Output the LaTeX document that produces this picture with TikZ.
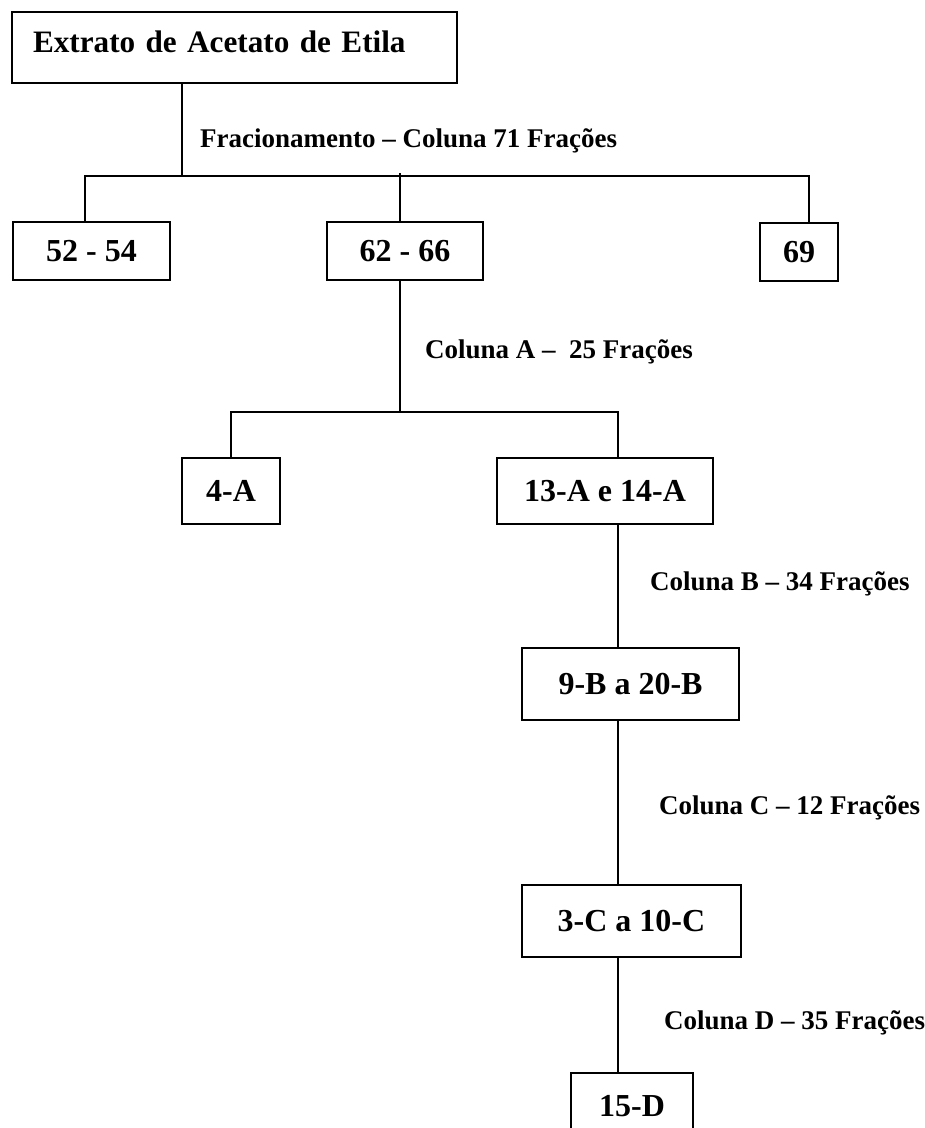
\documentclass[tikz,border=0pt]{standalone}
\usepackage{fontspec}
\setmainfont{Liberation Serif}
\usepackage{tikz}
\usetikzlibrary{positioning,calc}

\tikzset{
    frac/.style={draw, line width=2.2pt, font=\fontsize{32}{36}\bfseries\selectfont, minimum height=58pt, inner sep=0pt},
    topbox/.style={frac, font=\fontsize{31.2}{36}\bfseries\selectfont, minimum width=445pt, minimum height=71pt, text width=403pt, text depth=11pt, align=left},
    coltext/.style={anchor=west, inner sep=0pt, font=\fontsize{27}{30}\bfseries\selectfont},
    wire/.style={line width=2.2pt}
}

\begin{document}
\begin{tikzpicture}[x=1pt, y=-1pt]
    \useasboundingbox (0,0) rectangle (925,1128);
    \clip (0,0) rectangle (925,1128);
    \fill[white] (0,0) rectangle (925,1128);

    \node[topbox] (ext) at (234.5, 47.5) {Extrato de Acetato de Etila};
    \node[coltext] (lfr) at (200, 141) {Fracionamento – Coluna 71 Frações};
    \node[frac, minimum width=157pt] (f52) at (91.5, 251) {52 - 54};
    \node[frac, minimum width=156pt] (f62) at (405, 251) {62 - 66};
    \node[frac, minimum width=78pt] (f69) at (799, 252) {69};

    \node[coltext] (lca) at (425, 352) {Coluna A –\ \ 25 Frações};
    \node[frac, minimum width=98pt, minimum height=66pt] (a4) at (231, 491) {4-A};
    \node[frac, minimum width=216pt, minimum height=66pt] (a13) at (605, 491) {13-A e 14-A};

    \node[coltext] (lcb) at (650, 584) {Coluna B – 34 Frações};
    \node[frac, minimum width=217pt, minimum height=72pt] (b9) at (630.5, 684) {9-B a 20-B};

    \node[coltext] (lcc) at (659, 808) {Coluna C – 12 Frações};
    \node[frac, minimum width=219pt, minimum height=72pt] (c3) at (631.5, 921) {3-C a 10-C};

    \node[coltext] (lcd) at (664, 1023) {Coluna D – 35 Frações};
    \node[frac, minimum width=122pt, minimum height=66pt] (d15) at (632, 1106) {15-D};

    % junction points
    \coordinate (j0) at (182, 176);
    \coordinate (s1) at (85, 176);
    \coordinate (s3) at (809, 176);
    \coordinate (ja) at (400, 412);
    \coordinate (a1) at (231, 412);
    \coordinate (a2) at (618, 412);

    \draw[wire]
    (ext.south -| j0) -- (j0)
    (f52.north -| s1) -- (s1) -- (s3) -- (f69.north -| s3)
    (f62.north -| ja) -- ($(ja |- s1) + (0,-3)$)
    (f62.south -| ja) -- (ja)
    (a4.north -| a1) -- (a1) -- (a2) -- (a13.north -| a2)
    (a13.south -| a2) -- (b9.north -| a2)
    (b9.south -| a2) -- (c3.north -| a2)
    (c3.south -| a2) -- (d15.north -| a2);
\end{tikzpicture}
\end{document}
